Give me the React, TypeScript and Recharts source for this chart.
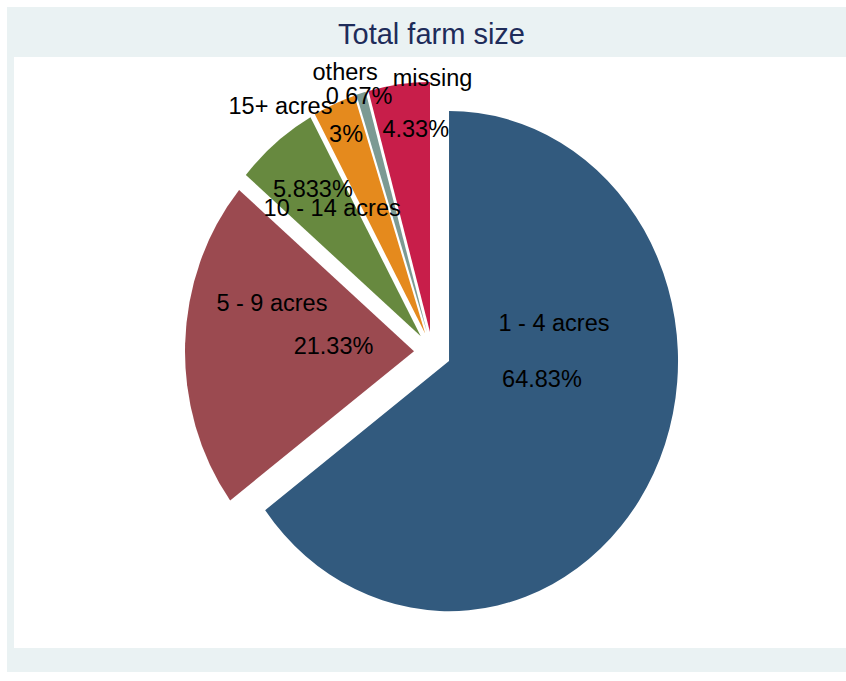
import { PieChart, Pie, Cell } from "recharts";

// farm size categories, clockwise from 12 o'clock
const categories = ["1 - 4 acres", "5 - 9 acres", "10 - 14 acres", "15+ acres", "others", "missing"];
const shares = [64.83, 21.33, 5.833, 3, 0.67, 4.33];
const percentLabels = ["64.83%", "21.33%", "5.833%", "3%", "0.67%", "4.33%"];

const colors = ["#325a7e", "#9b4a50", "#67893f", "#e58a1d", "#7c9a93", "#c81e4a"];

// label placement: radius as fraction of pie radius, angular shift (deg, clockwise)
const nameLayout = [[0.543, -39], [0.728, 13.8], [0.723, 2], [1.187, -10.6], [1.183, -2], [1.096, 7.8]];
const pctLayout = [[0.49, -14], [0.433, 1.4], [0.835, 0.6], [0.95, 0], [1.073, -0.6], [0.895, 3.1]];

const W = 846;
const H = 681;
const CX = 432.5;
const CY = 352;
const R = 229;
const STRETCH = 1.092; // the pie is drawn slightly taller than wide
const EXPLODE = 18.5;

const data = categories.map((name, i) => ({ name, value: shares[i] }));

const total = shares.reduce((a, b) => a + b, 0);
const explodeOffset = (i: number) => {
  const before = shares.slice(0, i).reduce((a, b) => a + b, 0);
  const mid = ((before + shares[i] / 2) / total) * 2 * Math.PI;
  return [EXPLODE * Math.sin(mid), -EXPLODE * Math.cos(mid)];
};

const labelFont = { fontFamily: "'Liberation Sans', Arial, sans-serif", fontSize: 23.5, fill: "#000" };

const renderLabel = (props: any) => {
  const { cx, cy, midAngle, outerRadius, index } = props;
  const pos = (rf: number, shift: number) => {
    const a = ((midAngle - shift) * Math.PI) / 180;
    return [cx + rf * outerRadius * Math.cos(a), cy - rf * outerRadius * STRETCH * Math.sin(a)];
  };
  const [nx, ny] = pos(nameLayout[index][0], nameLayout[index][1]);
  const [px, py] = pos(pctLayout[index][0], pctLayout[index][1]);
  return (
    <g key={"lbl" + index}>
      <text x={nx} y={ny} dy="0.35em" textAnchor="middle" {...labelFont}>
        {categories[index]}
      </text>
      <text x={px} y={py} dy="0.35em" textAnchor="middle" {...labelFont}>
        {percentLabels[index]}
      </text>
    </g>
  );
};

const layer: any = { position: "absolute", left: 0, top: 0, width: W, height: H };

export default function App() {
  return (
    <div style={layer}>
      <svg width={W} height={H} style={layer}>
        <rect x={7} y={7} width={W - 7} height={665} fill="#eaf2f3" />
        <rect x={14} y={57} width={W - 14} height={591} fill="#ffffff" />
        <text
          x={431.5}
          y={44}
          textAnchor="middle"
          fontFamily="'Liberation Sans', Arial, sans-serif"
          fontSize={29}
          fill="#1e2c5a"
        >
          Total farm size
        </text>
      </svg>

      <div style={{ ...layer, transform: `scaleY(${STRETCH})`, transformOrigin: `0px ${CY}px` }}>
        <PieChart width={W} height={H} margin={{ top: 0, right: 0, bottom: 0, left: 0 }}>
          <Pie
            data={data}
            dataKey="value"
            nameKey="name"
            cx={CX}
            cy={CY}
            outerRadius={R}
            startAngle={90}
            endAngle={-270}
            stroke="none"
            isAnimationActive={false}
          >
            {data.map((d, i) => {
              const [dx, dy] = explodeOffset(i);
              return (
                <Cell
                  key={d.name}
                  fill={colors[i]}
                  transform={`translate(${dx}, ${dy})`}
                />
              );
            })}
          </Pie>
        </PieChart>
      </div>

      <div style={layer}>
        <PieChart width={W} height={H} margin={{ top: 0, right: 0, bottom: 0, left: 0 }}>
          <Pie
            data={data}
            dataKey="value"
            nameKey="name"
            cx={CX}
            cy={CY}
            outerRadius={R}
            startAngle={90}
            endAngle={-270}
            fill="none"
            stroke="none"
            label={renderLabel}
            labelLine={false}
            isAnimationActive={false}
          />
        </PieChart>
      </div>
    </div>
  );
}
